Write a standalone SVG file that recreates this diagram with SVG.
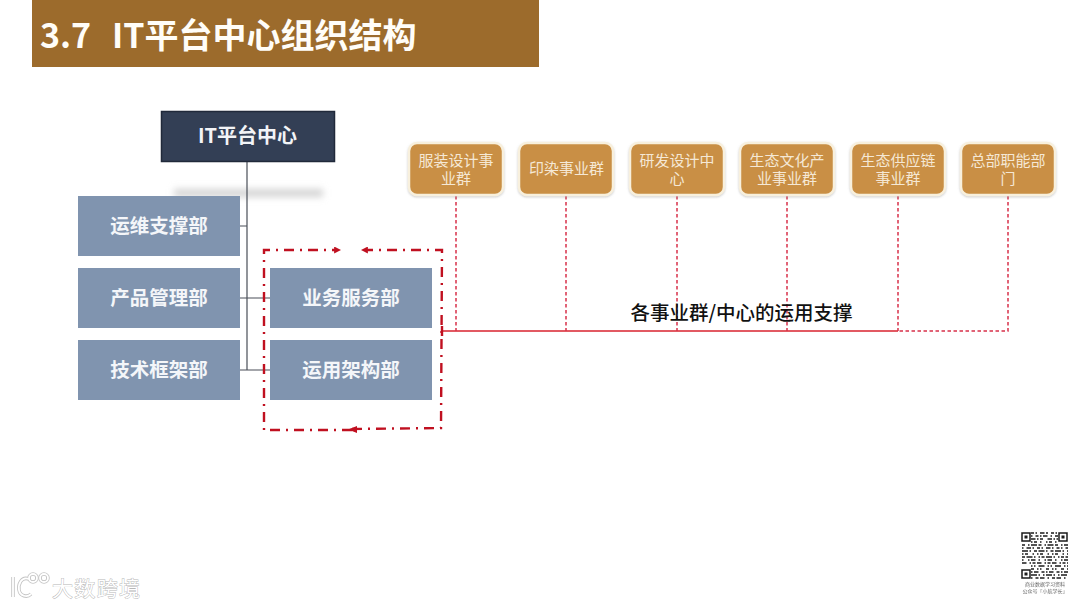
<svg xmlns="http://www.w3.org/2000/svg" width="1080" height="608" viewBox="0 0 1080 608">
<style>
text{font-family:"Noto Sans CJK SC","Noto Sans",sans-serif}
.title{font-size:34px;font-weight:700;fill:#fffdf8}
.dept rect{fill:#8094af}
.dept text{font-size:19.5px;font-weight:700;fill:#f4f6f9;text-anchor:middle}
.biz rect{fill:#c98f45;stroke:#f8f0dd;stroke-width:2.5;filter:url(#s)}
.biz text{font-size:15px;fill:#f5e8d5;text-anchor:middle}
.tree{stroke:#4a4f58;stroke-width:1.2;fill:none}
.drop{stroke:#d8304a;stroke-width:1.5;stroke-dasharray:3.5 2.5;fill:none}
.ring{stroke:#c01020;stroke-width:2.4;stroke-dasharray:10 6 2 6;fill:none}
.qr{stroke:#1a1a1a;stroke-width:1.5;fill:none}
.mark{font-size:21px;fill:#fff;stroke:#b8b8b8;stroke-width:.9;paint-order:stroke}
</style>
<defs>
<filter id="s" x="-10%" y="-10%" width="120%" height="130%"><feDropShadow dx="0" dy="1" stdDeviation="1.2" flood-color="#999" flood-opacity=".5"/></filter>
<filter id="b" x="-10%" y="-150%" width="120%" height="400%"><feGaussianBlur stdDeviation="3.5"/></filter>
<filter id="q"><feGaussianBlur stdDeviation=".35"/></filter>
<marker id="tri" viewBox="0 0 8 8" refX="1" refY="4" markerWidth="7" markerHeight="7" markerUnits="userSpaceOnUse" orient="auto"><path d="M0 0L8 4L0 8Z" fill="#c01020"/></marker>
</defs>

<g id="title-bar">
<rect x="32" y="0" width="507" height="67" fill="#9c6b2c"/>
<text class="title" y="48"><tspan x="40">3.7</tspan><tspan x="112">IT平台中心组织结构</tspan></text>
</g>

<rect x="174" y="189" width="149" height="8" fill="#d4d4d4" filter="url(#b)"/>

<g id="connectors">
<path class="tree" d="M247 162V370M240 226H247M240 298H270M240 370H270"/>
<path class="ring" marker-end="url(#tri)" d="M352 430H264V250H335"/>
<path class="ring" marker-end="url(#tri)" d="M352 429L441 428L442 250H367"/>
<path d="M357 426L348 429.500L357 433Z" fill="#c01020"/>
<path d="M442 331H898" stroke="#d8222e" stroke-width="1.500" fill="none"/>
<path d="M442 326V336" stroke="#c01020" stroke-width="2.400" fill="none"/>
<path class="drop" d="M456 196V331M566 196V331M677 196V331M787 196V331M898 196V331M1008 196V331H898"/>
</g>

<g id="it-center">
<rect x="161.500" y="111.500" width="173" height="50" fill="#333f55" stroke="#20293a" stroke-width="1.500"/>
<text x="247.500" y="143" text-anchor="middle" font-size="20" font-weight="700" fill="#f2f4f7">IT平台中心</text>
</g>
<g id="ops-support" class="dept"><rect x="78" y="196" width="162" height="60"/><text x="159" y="233">运维支撑部</text></g>
<g id="product-mgmt" class="dept"><rect x="78" y="268" width="162" height="60"/><text x="159" y="305">产品管理部</text></g>
<g id="tech-framework" class="dept"><rect x="78" y="340" width="162" height="60"/><text x="159" y="377">技术框架部</text></g>
<g id="biz-service" class="dept"><rect x="270" y="268" width="162" height="60"/><text x="351" y="305">业务服务部</text></g>
<g id="app-arch" class="dept"><rect x="270" y="340" width="162" height="60"/><text x="351" y="377">运用架构部</text></g>

<g id="biz-1" class="biz"><rect x="409" y="143" width="94" height="52" rx="8"/><text x="456" y="165.500">服装设计事</text><text x="456" y="183.500">业群</text></g>
<g id="biz-2" class="biz"><rect x="519" y="143" width="94" height="52" rx="8"/><text x="566.500" y="174">印染事业群</text></g>
<g id="biz-3" class="biz"><rect x="630" y="143" width="94" height="52" rx="8"/><text x="677" y="165.500">研发设计中</text><text x="677" y="183.500">心</text></g>
<g id="biz-4" class="biz"><rect x="740" y="143" width="94" height="52" rx="8"/><text x="787" y="165.500">生态文化产</text><text x="787" y="183.500">业事业群</text></g>
<g id="biz-5" class="biz"><rect x="851" y="143" width="94" height="52" rx="8"/><text x="898" y="165.500">生态供应链</text><text x="898" y="183.500">事业群</text></g>
<g id="biz-6" class="biz"><rect x="961" y="143" width="94" height="52" rx="8"/><text x="1008" y="165.500">总部职能部</text><text x="1008" y="183.500">门</text></g>

<text id="support-label" x="741.500" y="320" text-anchor="middle" font-size="19.500" font-weight="500" fill="#111">各事业群/中心的运用支撑</text>

<g id="qr-code" filter="url(#q)">
<g class="qr">
<path stroke-dasharray="3 1.500 1.500 3 4.500 1.500 2 3" d="M1031 533H1058"/>
<path stroke-dasharray="1.500 3 3 1.500 1.500 1.500 4.500 3" d="M1031 536H1058"/>
<path stroke-dasharray="4.500 1.500 1.500 1.500 3 4.500" d="M1031 539H1058"/>
<path stroke-dasharray="1.500 1.500 3 3 1.500 4.500" d="M1031 542H1058"/>
<path stroke-dasharray="3 3 1.500 1.500 6 1.500" d="M1022 545H1068"/>
<path stroke-dasharray="1.500 3 4.500 1.500 1.500 3 3 1.500" d="M1022 548H1068"/>
<path stroke-dasharray="6 1.500 1.500 3 3 1.500" d="M1022 551H1068"/>
<path stroke-dasharray="1.500 1.500 3 4.500 1.500 3" d="M1022 554H1068"/>
<path stroke-dasharray="3 1.500 6 1.500 1.500 3 1.500 1.500" d="M1022 557H1068"/>
<path stroke-dasharray="1.500 4.500 1.500 1.500 4.500 3" d="M1022 560H1068"/>
<path stroke-dasharray="4.500 3 1.500 1.500 3 1.500" d="M1022 563H1068"/>
<path stroke-dasharray="1.500 1.500 1.500 3 6 3" d="M1031 566H1068"/>
<path stroke-dasharray="3 3 1.500 1.500 1.500 4.500" d="M1031 569H1068"/>
<path stroke-dasharray="1.500 1.500 4.500 3 3 1.500" d="M1031 572H1068"/>
<path stroke-dasharray="6 1.500 1.500 3 1.500 1.500" d="M1031 575H1068"/>
<path stroke-dasharray="1.500 3 3 1.500 4.500 3" d="M1031 578H1068"/>
</g>
<g fill="none" stroke="#1a1a1a" stroke-width="1.500">
<rect x="1022" y="533" width="8" height="8"/><rect x="1059" y="533" width="8" height="8"/><rect x="1022" y="570" width="8" height="8"/>
</g>
<g fill="#1a1a1a"><rect x="1024.500" y="535.500" width="3" height="3"/><rect x="1061.500" y="535.500" width="3" height="3"/><rect x="1024.500" y="572.500" width="3" height="3"/></g>
<text x="1045" y="586" text-anchor="middle" font-size="5" fill="#666">商业数据学习资料</text>
<text x="1045" y="593" text-anchor="middle" font-size="5" fill="#666">公众号「小航学长」</text>
</g>

<g id="watermark">
<g fill="none" stroke="#c4c4c4" stroke-width="3.500">
<path d="M13 577V597M29 579C21 576 18 585 19 590C20 596 27 598 31 594"/>
<circle cx="33" cy="578" r="4"/><circle cx="44" cy="578" r="4"/>
</g>
<g fill="none" stroke="#fff" stroke-width="1.800">
<path d="M13 577V597M29 579C21 576 18 585 19 590C20 596 27 598 31 594"/>
<circle cx="33" cy="578" r="4"/><circle cx="44" cy="578" r="4"/>
</g>
<text class="mark" x="96" y="596" text-anchor="middle" textLength="88">大数跨境</text>
</g>
</svg>
